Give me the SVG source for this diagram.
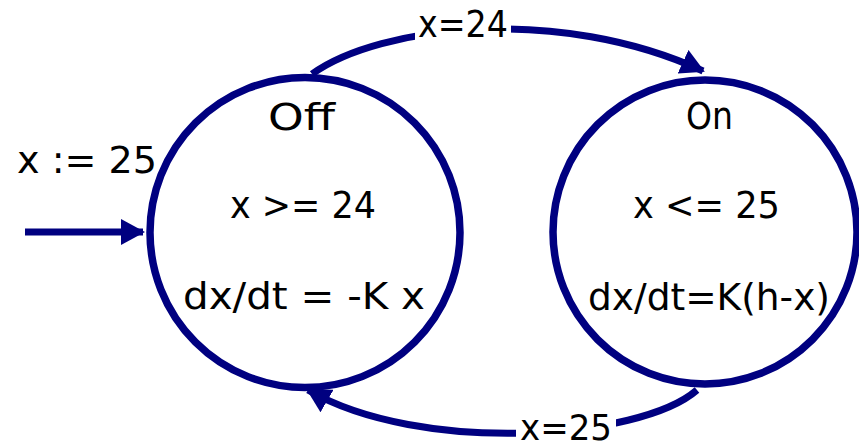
<svg xmlns="http://www.w3.org/2000/svg" width="859" height="447" viewBox="0 0 859 447">
<style>
.st{fill:none;stroke:#000080;stroke-width:7.5}
.ed{fill:none;stroke:#000080;stroke-width:7}
text{font-family:"DejaVu Sans","Liberation Sans",sans-serif;font-size:38px;fill:#000}
.lbl{fill:#fff}
</style>
<defs>
<marker id="ah" viewBox="0 0 24 26" refX="22" refY="13" markerWidth="24" markerHeight="26" markerUnits="userSpaceOnUse" orient="auto">
<path d="M0,0 L24,13 L0,26 Z" fill="#000080"/>
</marker>
</defs>
<g id="connectors">
<path id="init" class="ed" d="M25,232 L143,232" marker-end="url(#ah)"/>
<path id="off-on" class="ed" d="M312,74 C380,25 560,5 703,71" marker-end="url(#ah)"/>
<path id="on-off" class="ed" d="M697,390 C640,440 420,455 308,390" marker-end="url(#ah)"/>
<rect class="lbl" x="415" y="12" width="96" height="32"/>
<text x="418" y="37" textLength="90" lengthAdjust="spacingAndGlyphs">x=24</text>
<rect class="lbl" x="516" y="416" width="100" height="31"/>
<text x="520" y="440" style="font-size:35px" textLength="92" lengthAdjust="spacingAndGlyphs">x=25</text>
<text x="17" y="173" textLength="140" lengthAdjust="spacingAndGlyphs">x := 25</text>
</g>
<g id="off">
<circle class="st" cx="305" cy="232.5" r="155"/>
<text x="268" y="130" textLength="67" lengthAdjust="spacingAndGlyphs">Off</text>
<text x="230" y="218" textLength="146" lengthAdjust="spacingAndGlyphs">x &gt;= 24</text>
<text x="183" y="309" textLength="242" lengthAdjust="spacingAndGlyphs">dx/dt = -K x</text>
</g>
<g id="on">
<circle class="st" cx="705" cy="232" r="152"/>
<text x="686" y="129" textLength="47" lengthAdjust="spacingAndGlyphs">On</text>
<text x="633" y="218" textLength="147" lengthAdjust="spacingAndGlyphs">x &lt;= 25</text>
<text x="588" y="310" textLength="242" lengthAdjust="spacingAndGlyphs">dx/dt=K(h-x)</text>
</g>
</svg>
